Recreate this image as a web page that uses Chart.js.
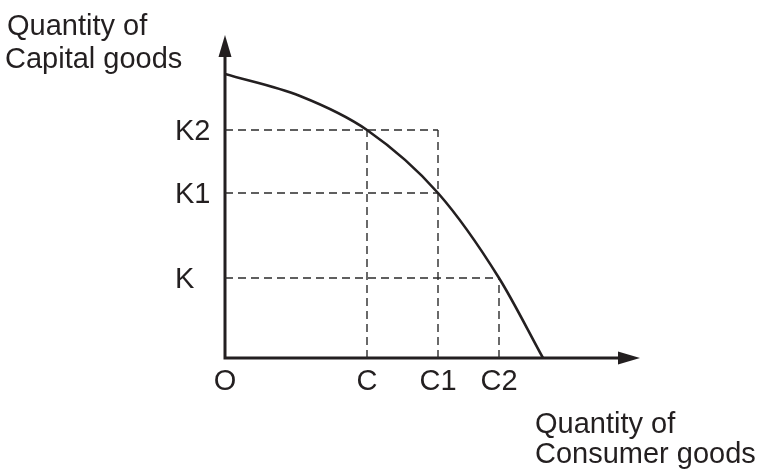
<!DOCTYPE html>
<html lang="en">
<head>
    <meta charset="UTF-8">
    <title>Production possibility curve</title>
    <style>
        html, body { margin: 0; padding: 0; background: #fff; }
    </style>
</head>
<body>
    <canvas id="myChart" width="764" height="474"></canvas>
    <script src="https://cdn.jsdelivr.net/npm/chart.js"></script>
    <script>
        // curve points (consumer goods, capital goods)
        const curveX = [0, 75, 142, 213, 274, 318];
        const curveY = [284, 262, 228, 165, 80, 0];

        // capital goods marks and where their dashed line stops
        const kLabels = ['K', 'K1', 'K2'];
        const kValues = [80, 165, 228];
        const kLineEnds = [274, 213, 213];

        // consumer goods marks and where their dashed line stops
        const cLabels = ['C', 'C1', 'C2'];
        const cValues = [142, 213, 274];
        const cLineTops = [228, 228, 80];

        const xMax = 415;
        const yMax = 323;
        const ink = '#231f20';
        const font = '29px "Liberation Sans", Arial, sans-serif';

        const guides = [];
        kValues.forEach((k, i) => {
            guides.push({
                data: [{ x: 0, y: k }, { x: kLineEnds[i], y: k }],
                showLine: true, borderColor: '#2b2b2b', borderWidth: 1.4,
                borderDash: [8, 5], pointRadius: 0
            });
        });
        cValues.forEach((c, i) => {
            guides.push({
                data: [{ x: c, y: 0 }, { x: c, y: cLineTops[i] }],
                showLine: true, borderColor: '#2b2b2b', borderWidth: 1.4,
                borderDash: [8, 5], pointRadius: 0
            });
        });

        // axes with arrows and all the text labels
        const drawing = {
            id: 'drawing',
            beforeDatasetsDraw(chart) {
                const { ctx, scales: { x, y } } = chart;
                const x0 = x.getPixelForValue(0), y0 = y.getPixelForValue(0);
                const xEnd = x.getPixelForValue(xMax), yEnd = y.getPixelForValue(yMax);
                ctx.save();
                ctx.strokeStyle = ink;
                ctx.fillStyle = ink;
                ctx.lineWidth = 3;
                ctx.beginPath();
                ctx.moveTo(x0, yEnd + 18);
                ctx.lineTo(x0, y0 + 1.5);
                ctx.moveTo(x0 - 1.5, y0);
                ctx.lineTo(xEnd - 18, y0);
                ctx.stroke();
                // arrow heads
                ctx.beginPath();
                ctx.moveTo(x0, yEnd);
                ctx.lineTo(x0 - 6.5, yEnd + 22);
                ctx.lineTo(x0 + 6.5, yEnd + 22);
                ctx.closePath();
                ctx.fill();
                ctx.beginPath();
                ctx.moveTo(xEnd, y0);
                ctx.lineTo(xEnd - 22, y0 - 6.5);
                ctx.lineTo(xEnd - 22, y0 + 6.5);
                ctx.closePath();
                ctx.fill();
                ctx.restore();
            },
            afterDatasetsDraw(chart) {
                const { ctx, scales: { x, y } } = chart;
                const y0 = y.getPixelForValue(0);
                ctx.save();
                ctx.fillStyle = ink;
                ctx.font = font;
                ctx.textBaseline = 'alphabetic';

                ctx.textAlign = 'left';
                kValues.forEach((k, i) => {
                    ctx.fillText(kLabels[i], 175, y.getPixelForValue(k) + 10);
                });

                ctx.textAlign = 'center';
                ctx.fillText('O', x.getPixelForValue(0), y0 + 32);
                cValues.forEach((c, i) => {
                    ctx.fillText(cLabels[i], x.getPixelForValue(c), y0 + 32);
                });

                ctx.textAlign = 'left';
                ctx.fillText('Quantity of', 7, 35);
                ctx.fillText('Capital goods', 5, 68);
                ctx.fillText('Quantity of', 535, 433);
                ctx.fillText('Consumer goods', 535, 463);
                ctx.restore();
            }
        };

        const ctx = document.getElementById('myChart').getContext('2d');
        const myChart = new Chart(ctx, {
            type: 'scatter',
            data: {
                datasets: [
                    {
                        label: 'PPF',
                        data: curveX.map((v, i) => ({ x: v, y: curveY[i] })),
                        showLine: true,
                        borderColor: ink,
                        borderWidth: 2.6,
                        pointRadius: 0,
                        cubicInterpolationMode: 'monotone'
                    },
                    ...guides
                ]
            },
            options: {
                responsive: false,
                animation: false,
                layout: { padding: { left: 225, right: 124, top: 35, bottom: 116 } },
                plugins: { legend: { display: false }, tooltip: { enabled: false } },
                scales: {
                    x: { type: 'linear', min: 0, max: xMax, display: false },
                    y: { type: 'linear', min: 0, max: yMax, display: false }
                }
            },
            plugins: [drawing]
        });
    </script>
</body>
</html>
